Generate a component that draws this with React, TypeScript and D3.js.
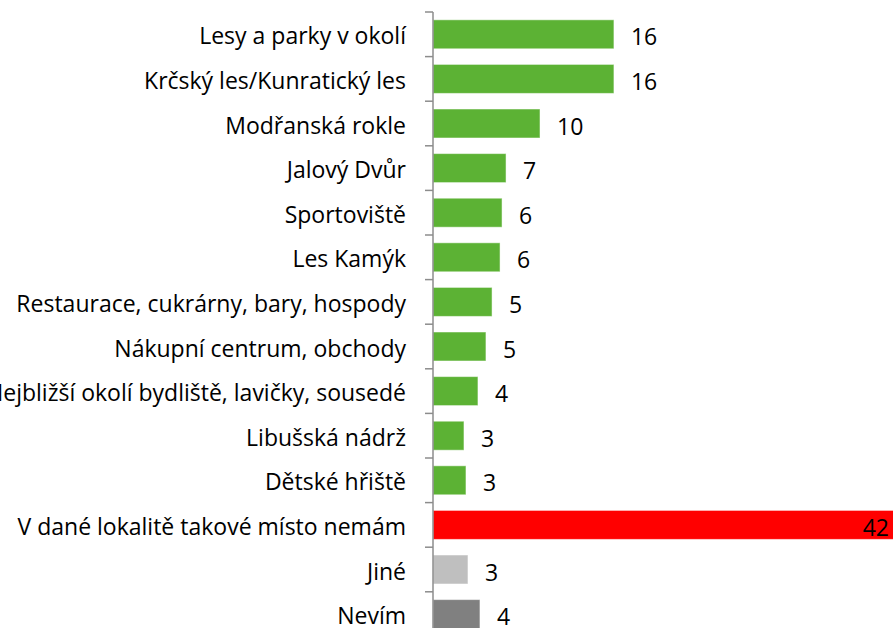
import React from "react";
import * as d3 from "d3";

const categories = [
  "Lesy a parky v okolí",
  "Krčský les/Kunratický les",
  "Modřanská rokle",
  "Jalový Dvůr",
  "Sportoviště",
  "Les Kamýk",
  "Restaurace, cukrárny, bary, hospody",
  "Nákupní centrum, obchody",
  "Nejbližší okolí bydliště, lavičky, sousedé",
  "Libušská nádrž",
  "Dětské hřiště",
  "V dané lokalitě takové místo nemám",
  "Jiné",
  "Nevím",
];
const values = [16.3, 16.3, 9.64, 6.58, 6.22, 6.04, 5.32, 4.77, 4.05, 2.79, 2.97, 42.1, 3.15, 4.23];
const labels = ["16", "16", "10", "7", "6", "6", "5", "5", "4", "3", "3", "42", "3", "4"];
const groups = ["g", "g", "g", "g", "g", "g", "g", "g", "g", "g", "g", "none", "other", "dk"];
const colorByGroup: Record<string, string> = {
  g: "#5CB234",
  none: "#FF0000",
  other: "#BFBFBF",
  dk: "#808080",
};

const W = 893;
const H = 628;
const AXIS_X = 433;
const FONT = "'Open Sans', sans-serif";
const FS = 23;

export default function App() {
  const x = d3.scaleLinear().domain([0, 40]).range([AXIS_X, AXIS_X + 444]);
  const y = d3
    .scaleBand<string>()
    .domain(categories)
    .range([12, 636.4])
    .paddingInner(0.35)
    .paddingOuter(0.175);
  const step = y.step();
  const tickYs = d3.range(categories.length + 1).map((i) => 12 + i * step);

  return (
    <svg
      width={W}
      height={H}
      style={{ position: "absolute", left: 0, top: 0, display: "block", background: "#fff" }}
    >
      {categories.map((c, i) => {
        const yy = y(c)!;
        const xe = x(values[i]);
        const inside = xe + 40 > W;
        return (
          <g key={c}>
            <rect
              x={x(0)}
              y={yy}
              width={xe - x(0)}
              height={y.bandwidth()}
              fill={colorByGroup[groups[i]]}
              stroke="rgba(255,255,255,0.5)"
              strokeWidth={1}
            />
            <text
              x={AXIS_X - 27}
              y={yy + y.bandwidth() / 2 + 1}
              textAnchor="end"
              dominantBaseline="central"
              fontFamily={FONT}
              fontSize={FS}
              fill="#000"
            >
              {c}
            </text>
            <text
              x={inside ? W - 4 : xe + 17}
              y={yy + y.bandwidth() / 2 + 2}
              textAnchor={inside ? "end" : "start"}
              dominantBaseline="central"
              fontFamily={FONT}
              fontSize={FS}
              fill="#000"
            >
              {labels[i]}
            </text>
          </g>
        );
      })}
      <line x1={AXIS_X} x2={AXIS_X} y1={12} y2={640} stroke="#8C8C8C" strokeWidth={1.5} />
      {tickYs.map((ty, i) => (
        <line key={i} x1={AXIS_X - 8} x2={AXIS_X} y1={ty} y2={ty} stroke="#8C8C8C" strokeWidth={1.5} />
      ))}
    </svg>
  );
}
